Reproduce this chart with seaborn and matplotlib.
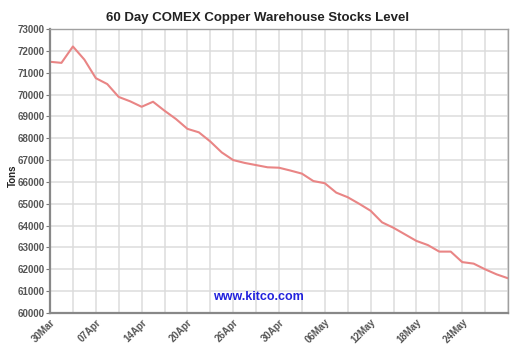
import matplotlib
matplotlib.use("Agg")
import matplotlib.pyplot as plt
from matplotlib.ticker import MultipleLocator
import numpy as np
import pandas as pd
import seaborn as sns

# ---- data ----
stocks_tons = [71500, 71450, 72200, 71600, 70750, 70480, 69890, 69690, 69440, 69670,
               69260, 68880, 68430, 68270, 67850, 67350, 67000, 66870, 66770, 66670,
               66650, 66520, 66380, 66040, 65940, 65510, 65300, 65000, 64680, 64150,
               63900, 63600, 63300, 63110, 62810, 62810, 62330, 62260, 62000, 61770,
               61590]
date_labels = ["30Mar", "07Apr", "14Apr", "20Apr", "26Apr", "30Apr",
               "06May", "12May", "18May", "24May"]
label_step = 4  # one date label every 4 observations
y_ticks = list(range(60000, 73001, 1000))

df = pd.DataFrame({"day": np.arange(len(stocks_tons)), "tons": stocks_tons})

sns.set_theme(style="white")
plt.rcParams["font.family"] = ["Liberation Sans", "DejaVu Sans"]

fig = plt.figure(figsize=(5.27, 3.56), dpi=100)
ax = fig.add_axes([50 / 527, 1 - 313 / 356, 458 / 527, 284 / 356])

sns.lineplot(data=df, x="day", y="tons", ax=ax, color="#e98585", linewidth=1.5)

ax.set_xlim(0, len(stocks_tons) - 1)
ax.set_ylim(y_ticks[0], y_ticks[-1])
ax.set_yticks(y_ticks)
ax.set_yticklabels([str(v) for v in y_ticks])
ax.set_xticks([i * label_step for i in range(len(date_labels))])
ax.set_xticklabels(date_labels, rotation=45, ha="right", va="top",
                   rotation_mode="anchor")
ax.xaxis.set_minor_locator(MultipleLocator(2))

ax.grid(True, which="both", color="#dcdcdc", linewidth=1.1)
ax.set_axisbelow(True)

ax.tick_params(axis="y", which="major", length=3, width=0.8, color="#777777",
               labelsize=7, labelcolor="#555555", pad=1, left=True)
ax.tick_params(axis="x", which="major", length=0, labelsize=7,
               labelcolor="#555555", pad=3)
ax.tick_params(axis="x", which="minor", length=0)
for lab in ax.get_xticklabels() + ax.get_yticklabels():
    lab.set_fontweight("bold")

for side in ["top", "right"]:
    ax.spines[side].set_color("#a0a0a0")
    ax.spines[side].set_linewidth(1.0)
for side in ["left", "bottom"]:
    ax.spines[side].set_color("#888888")
    ax.spines[side].set_linewidth(1.6)

ax.set_xlabel("")
ax.set_ylabel("")

fig.text(258 / 527, 1 - 18.5 / 356, "60 Day COMEX Copper Warehouse Stocks Level",
         ha="center", va="center", fontsize=9.5, fontweight="bold", color="#222222")
fig.text(13 / 527, 1 - 176 / 356, "Tons", rotation=90, ha="center", va="center",
         fontsize=7, fontweight="bold", color="#222222")
ax.text(0.454, 0.055, "www.kitco.com", transform=ax.transAxes, ha="center",
        va="center", fontsize=9, fontweight="bold", color="#2222dd")

fig.savefig("out.png", dpi=100)
